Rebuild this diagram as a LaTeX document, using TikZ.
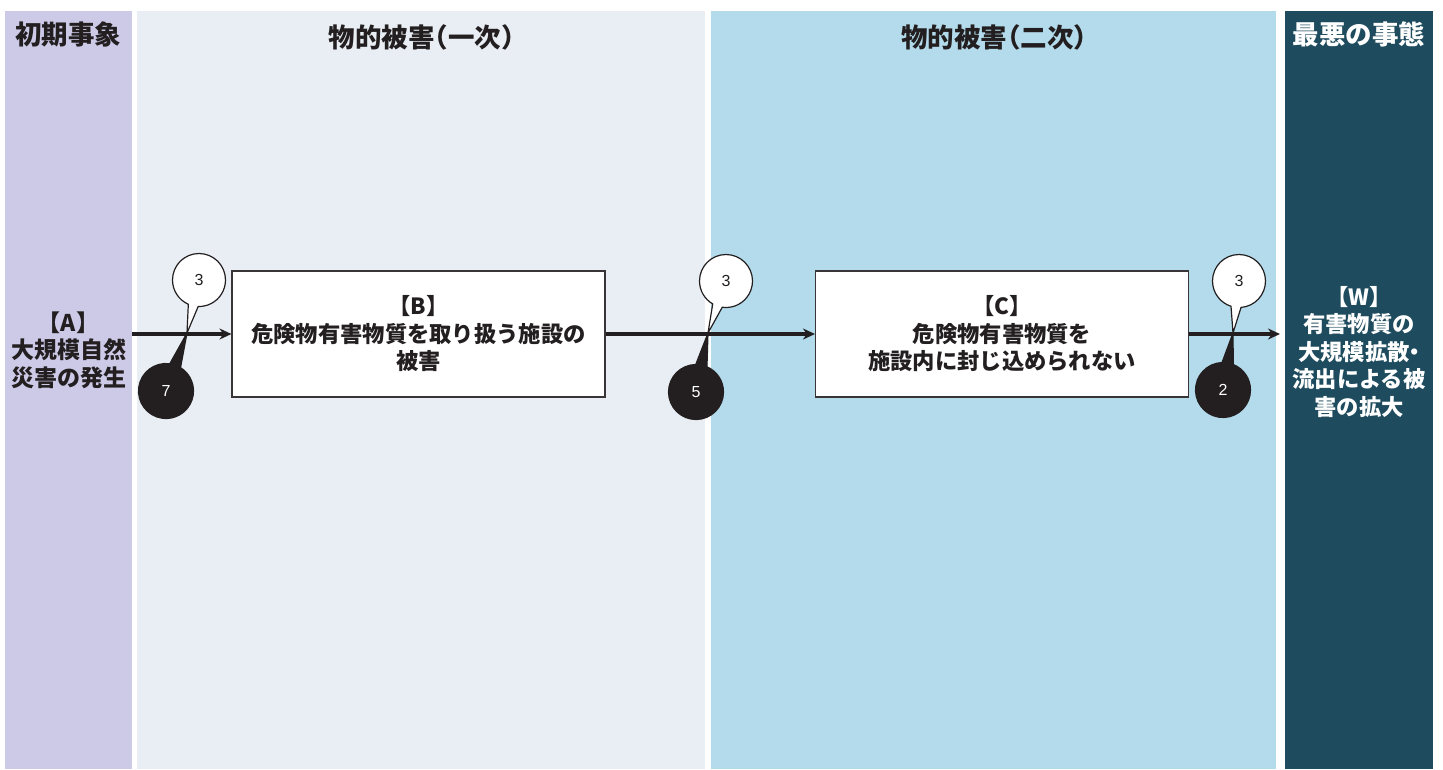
\documentclass[tikz,border=0pt]{standalone}
\usepackage{fontspec}
\setmainfont{Noto Sans CJK JP}
\newfontfamily\numfont{Liberation Sans}
\usetikzlibrary{shapes.callouts,arrows.meta}
\definecolor{bandA}{RGB}{205,202,232}
\definecolor{bandB}{RGB}{232,238,243}
\definecolor{bandC}{RGB}{179,219,235}
\definecolor{bandW}{RGB}{30,75,93}
\definecolor{ink}{RGB}{35,31,32}
\begin{document}
\begin{tikzpicture}[x=1pt,y=-1pt,
 band/.style={draw=none, inner sep=0pt, outer sep=0pt, anchor=north west, minimum height=758pt},
 head/.style={font=\fontsize{26.5}{30}\selectfont\bfseries, text=ink},
 body/.style={font=\fontsize{22.3}{27.5}\selectfont\bfseries, text=ink, align=center},
 stepbox/.style={draw=ink!90, line width=1.1pt, fill=white, minimum width=373pt, minimum height=126pt, inner sep=0pt, body},
 flow/.style={draw=ink, line width=3.4pt, -{Stealth[length=12pt,width=11pt]}},
 wcall/.style={ellipse callout, draw=ink, line width=1.2pt, fill=white, minimum width=53pt, minimum height=53pt, inner sep=0pt, callout pointer arc=22, font=\numfont\fontsize{16}{18}\selectfont, text=ink},
 bcall/.style={ellipse callout, draw=ink, line width=1.2pt, fill=ink, minimum width=55pt, minimum height=55pt, inner sep=0pt, callout pointer arc=24, font=\numfont\fontsize{16}{18}\selectfont, text=white},
]
\useasboundingbox (0,0) rectangle (1443,769);
% bands
\node[band, fill=bandA, minimum width=127pt] (bA) at (5,11) {};
\node[band, fill=bandB, minimum width=568pt] (bB) at (137,11) {};
\node[band, fill=bandC, minimum width=565pt] (bC) at (711,11) {};
\node[band, fill=bandW, minimum width=148pt] (bW) at (1285,11) {};
% headers
\node[head] (hA) at (68.5,34) {初期事象};
\node[head] (hB) at (421.5,37) {物的被害\kern-13pt（一次）\kern-13pt};
\node[head] (hC) at (994,37) {物的被害\kern-13pt（二次）\kern-13pt};
\node[head, text=white] (hW) at (1359,34) {最悪の事態};
% contents
\node[body, font=\fontsize{23}{27.5}\selectfont\bfseries] (tA) at (68.5,350) {【A】\\大規模自然\\災害の発生};
\node[stepbox] (B) at (418.5,334) {【B】\\危険物有害物質を取り扱う施設の\\被害};
\node[stepbox] (C) at (1002,334) {【C】\\危険物有害物質を\\施設内に封じ込められない};
\node[body, text=white] (tW) at (1359,352) {【W】\\有害物質の\\大規模拡散\kern-6pt・\kern-6pt\\流出による被\\害の拡大};
% arrows
\draw[flow] (B.west -| bA.east) -- (B.west);
\draw[flow] (B.east) -- (C.west);
\draw[flow, shorten >=5pt] (C.east) -- (C.east -| bW.west);
% callouts
\coordinate (p1) at (187,333);
\coordinate (p2) at (708,333);
\coordinate (p3) at (1233,333);
\node[wcall, callout absolute pointer={(p1)}] (w1) at (199,280) {3};
\node[bcall, callout absolute pointer={(p1)}] (k1) at (166,391) {7};
\node[wcall, callout absolute pointer={(p2)}] (w2) at (726,281) {3};
\node[bcall, callout absolute pointer={(p2)}] (k2) at (696,392) {5};
\node[wcall, callout absolute pointer={(p3)}] (w3) at (1239,281) {3};
\node[bcall, callout absolute pointer={(p3)}] (k3) at (1223,390) {2};
\end{tikzpicture}
\end{document}
